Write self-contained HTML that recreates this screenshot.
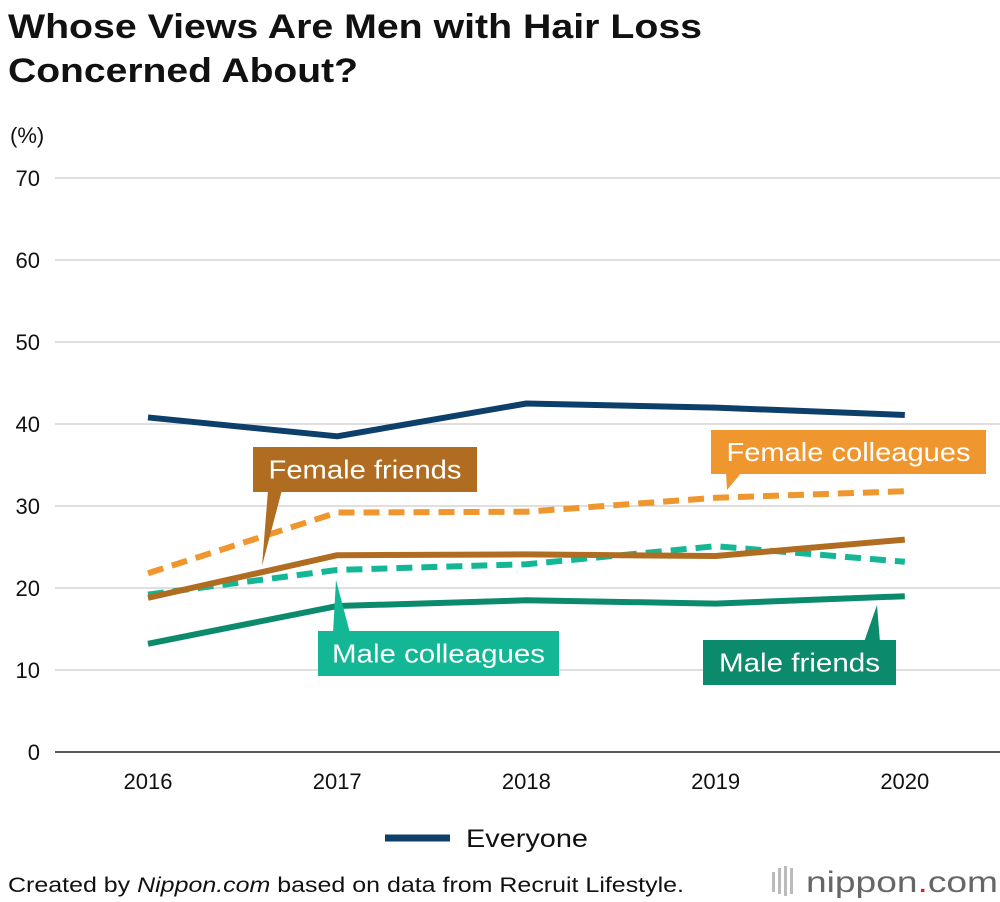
<!DOCTYPE html>
<html><head><meta charset="utf-8"><style>
body{margin:0;background:#fff;font-family:"Liberation Sans",sans-serif;}
#wrap{position:relative;width:1000px;height:902px;overflow:hidden;}
</style></head><body>
<div id="wrap">
<svg id="chart" width="1000" height="902" font-family="Liberation Sans, sans-serif">
<text x="8" y="38" font-size="34" font-weight="bold" fill="#111" textLength="694" lengthAdjust="spacingAndGlyphs">Whose Views Are Men with Hair Loss</text>
<text x="8" y="82" font-size="34" font-weight="bold" fill="#111" textLength="350" lengthAdjust="spacingAndGlyphs">Concerned About?</text>
<text x="10" y="143" font-size="22" fill="#111">(%)</text>
<g id="grid"></g><g id="lines"></g><g id="labels"></g>
<line x1="385" y1="838" x2="450" y2="838" stroke="#0d3f6b" stroke-width="7"/>
<text x="466" y="847" font-size="25" fill="#111" textLength="122" lengthAdjust="spacingAndGlyphs">Everyone</text>
<text x="8" y="892" font-size="21" fill="#111" textLength="676" lengthAdjust="spacingAndGlyphs">Created by <tspan font-style="italic">Nippon.com</tspan> based on data from Recruit Lifestyle.</text>
<g>
<rect x="772" y="872" width="3" height="20" fill="#bbb"/><rect x="778" y="868" width="3" height="26" fill="#bbb"/><rect x="784" y="866" width="3" height="30" fill="#bbb"/><rect x="790" y="868" width="3" height="26" fill="#bbb"/>
<text x="806" y="892" font-size="30" fill="#666" textLength="192" lengthAdjust="spacingAndGlyphs">nippon<tspan fill="#e0202a">.</tspan>com</text></g>
</svg>
</div>
<script>
const years=["2016","2017","2018","2019","2020"];
const yTicks=[0,10,20,30,40,50,60,70];
const everyone=[40.8,38.5,42.5,42.0,41.1];
const femaleColleagues=[21.8,29.2,29.3,31.0,31.8];
const femaleFriends=[18.8,24.0,24.1,23.9,25.9];
const maleColleagues=[19.2,22.2,22.9,25.1,23.2];
const maleFriends=[13.2,17.8,18.5,18.1,19.0];
const NS="http://www.w3.org/2000/svg";
const x=i=>148+i*189.2;
const y=v=>752-v*8.2;
function mk(t,a,p){const e=document.createElementNS(NS,t);for(const k in a)e.setAttribute(k,a[k]);p.appendChild(e);return e;}
const grid=document.getElementById('grid');
yTicks.forEach(t=>{
 const l=mk('line',{x1:55,x2:1000,y1:y(t),y2:y(t),stroke:t===0?'#222':'#ccc','stroke-width':t===0?1.5:1.3},grid);
 
 
 const tx=mk('text',{x:40,y:y(t)+8,'font-size':22,'text-anchor':'end',fill:'#111'},grid);tx.textContent=t;
 
 
});
years.forEach((yr,i)=>{
 const tx=mk('text',{x:x(i),y:789,'font-size':22,'text-anchor':'middle',fill:'#111'},grid);tx.textContent=yr;
 
 
});
const lines=document.getElementById('lines');
function series(vals,color,dash,name){
 const p=mk('polyline',{points:vals.map((v,i)=>x(i)+','+y(v)).join(' '),fill:'none',stroke:color,'stroke-width':6,'stroke-dasharray':dash?'16 9':'none','stroke-linejoin':'round'},lines);
 
 
}
series(maleFriends,'#0c8a6c',false,'line-male-friends');
series(maleColleagues,'#13b795',true,'line-male-colleagues');
series(femaleColleagues,'#f0962e',true,'line-female-colleagues');
series(femaleFriends,'#b06d22',false,'line-female-friends');
series(everyone,'#0d3f6b',false,'line-everyone');
const lab=document.getElementById('labels');
function box(bx,by,w,h,color,text,tw,ptr,name){
 const g=mk('g',{},lab);
 
 
 mk('polygon',{points:ptr,fill:color},g);
 mk('rect',{x:bx,y:by,width:w,height:h,fill:color},g);
 const t=mk('text',{x:bx+w/2,y:by+h/2+9,'font-size':26,'text-anchor':'middle',fill:'#fff',textLength:tw,lengthAdjust:'spacingAndGlyphs'},g);t.textContent=text;
}
box(253,447,224,45,'#b06d22','Female friends',193,'268,490 282,490 262,566','label-female-friends');
box(711,430,275,44,'#f0962e','Female colleagues',244,'726,472 742,472 727,490','label-female-colleagues');
box(318,631,241,45,'#13b795','Male colleagues',213,'333,633 350,633 336,580','label-male-colleagues');
box(703,640,193,45,'#0c8a6c','Male friends',161,'864,642 880,642 877,605','label-male-friends');
</script>
</body></html>
